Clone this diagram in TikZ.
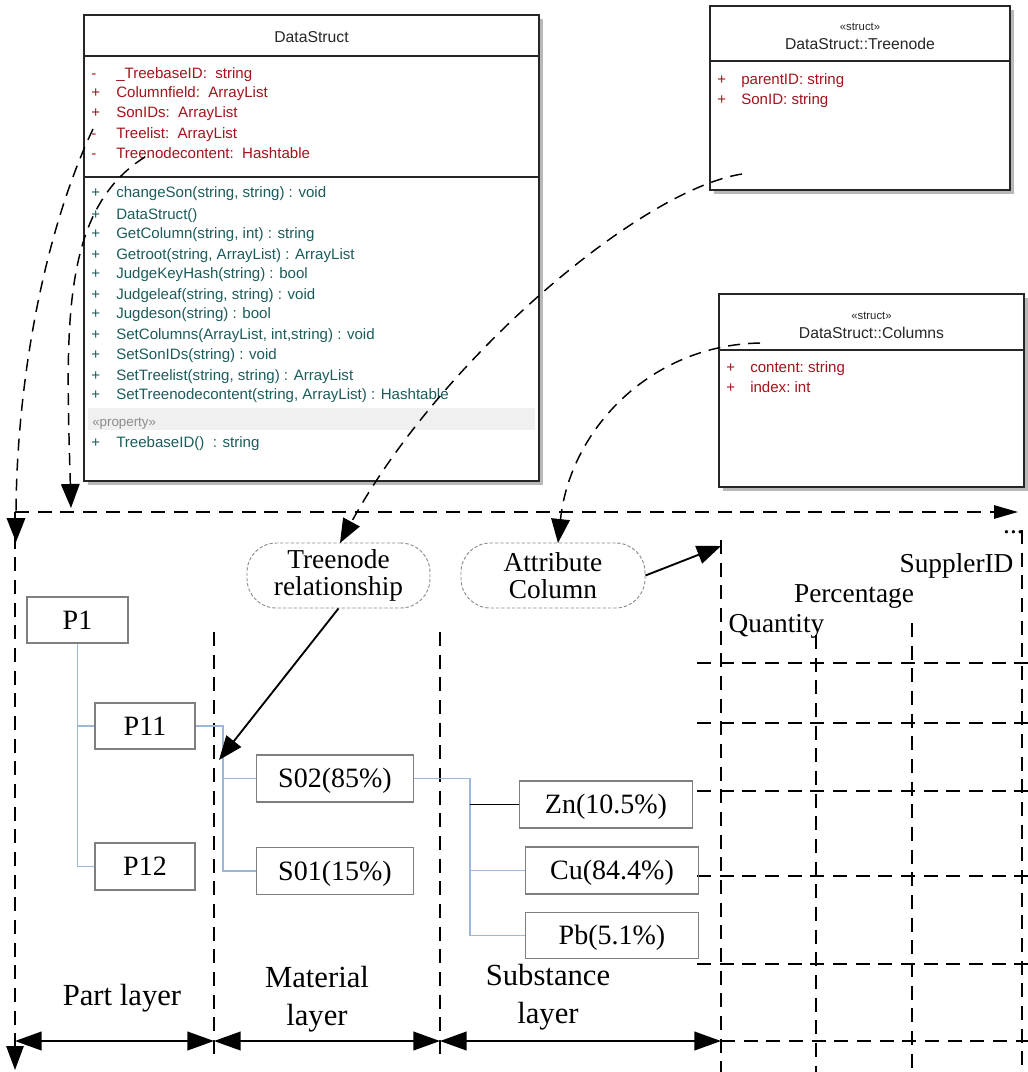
\documentclass[tikz,border=0pt]{standalone}
\usepackage{fontspec}
\setmainfont{Liberation Serif}
\newfontfamily\umlf{Liberation Sans}
\usetikzlibrary{arrows.meta,calc}
\definecolor{attrred}{HTML}{A3141C}
\definecolor{methteal}{HTML}{1D5C5C}
\definecolor{treeblue}{HTML}{9DB6DC}
\definecolor{boxgray}{HTML}{7F7F7F}
\definecolor{shadowgray}{HTML}{B8B8B8}
\definecolor{propband}{HTML}{F0F0F0}
\begin{document}
\begin{tikzpicture}[x=0.75pt,y=-0.75pt,
  umlbox/.style={draw=black!85, line width=1pt, fill=white, inner sep=0, outer sep=0, anchor=north west},
  umltxt/.style={font=\umlf\fontsize{11.3}{13}\selectfont, inner sep=0, anchor=base west},
  attr/.style={umltxt, text=attrred},
  meth/.style={umltxt, text=methteal},
  umltitle/.style={font=\umlf\fontsize{11.8}{13}\selectfont, inner sep=0, anchor=base, text=black!85},
  stereo/.style={font=\umlf\fontsize{8.5}{10}\selectfont, inner sep=0, anchor=base, text=black!85},
  frame/.style={line width=1.4pt, dash pattern=on 10.5pt off 6.5pt},
  curve/.style={line width=1.1pt, dash pattern=on 9pt off 6pt},
  tip/.style={-{Triangle[length=18pt,width=14pt]}},
  treebox/.style={draw=boxgray, line width=0.8pt, inner sep=0, font=\fontsize{21}{24}\selectfont, text height=18pt, text depth=4pt},
  tree/.style={draw=treeblue, line width=0.8pt},
  oval/.style={draw=gray!90, dash pattern=on 2.5pt off 1.5pt, line width=0.7pt, rounded corners=22pt, inner sep=0, minimum height=48.75pt, align=center, font=\fontsize{20.5}{20}\selectfont},
  lbl/.style={align=center, font=\fontsize{23}{28}\selectfont, inner sep=0},
  hdr/.style={font=\fontsize{20.5}{24}\selectfont, inner sep=0, anchor=base}
]
\useasboundingbox (0,0) rectangle (1028,1072);

% ---------- UML: DataStruct ----------
\fill[shadowgray] (88,19) rectangle (543,485);
\node[umlbox, minimum width=341.25pt, minimum height=349.5pt] (ds) at (84,15) {};
\draw[line width=1pt, black!85] (84,56) -- (539,56);
\draw[line width=1pt, black!85] (84,177) -- (539,177);
\fill[propband] (88,408) rectangle (535,430);
\node[umltitle] (dst) at (311.5,42) {DataStruct};
\foreach \s/\t/\y [count=\i] in {
  -/{\_TreebaseID:\ \ string}/78,
  +/{Columnfield:\ \ ArrayList}/97,
  +/{SonIDs:\ \ ArrayList}/117,
  -/{Treelist:\ \ ArrayList}/138,
  -/{Treenodecontent:\ \ Hashtable}/158}
{
  \node[attr] (dsas\i) at (91,\y) {\s};
  \node[attr] (dsat\i) at (116,\y) {\t};
}
\foreach \t/\y [count=\i] in {
  {changeSon(string, string) : void}/197,
  {DataStruct()}/219,
  {GetColumn(string, int) : string}/238,
  {Getroot(string, ArrayList) : ArrayList}/259,
  {JudgeKeyHash(string) : bool}/278,
  {Judgeleaf(string, string) : void}/299,
  {Jugdeson(string) : bool}/318,
  {SetColumns(ArrayList, int,string) : void}/339,
  {SetSonIDs(string) : void}/359,
  {SetTreelist(string, string) : ArrayList}/380,
  {SetTreenodecontent(string, ArrayList) : Hashtable}/399}
{
  \node[meth] (dsms\i) at (91,\y) {+};
  \node[meth] (dsmt\i) at (116,\y) {\t};
}
\node[umltxt, text=black!45, font=\umlf\fontsize{10}{12}\selectfont] (dsprop) at (92,426) {«property»};
\node[meth] (dsps) at (91,447) {+};
\node[meth] (dspt) at (116,447) {TreebaseID()\ \ : string};

% ---------- UML: Treenode ----------
\fill[shadowgray] (714,10) rectangle (1014,194);
\node[umlbox, minimum width=225pt, minimum height=138pt] (tn) at (710,6) {};
\draw[line width=1pt, black!85] (710,61) -- (1010,61);
\node[stereo] (tns) at (860,30) {«struct»};
\node[umltitle] (tnt) at (860,49) {DataStruct::Treenode};
\node[attr] (tna1s) at (717,84) {+};
\node[attr] (tna1) at (741,84) {parentID:\ string};
\node[attr] (tna2s) at (717,104) {+};
\node[attr] (tna2) at (741,104) {SonID:\ string};

% ---------- UML: Columns ----------
\fill[shadowgray] (723,298) rectangle (1028,491);
\node[umlbox, minimum width=228.75pt, minimum height=144.75pt] (col) at (719,294) {};
\draw[line width=1pt, black!85] (719,350) -- (1024,350);
\node[stereo] (cols) at (871.5,319) {«struct»};
\node[umltitle] (colt) at (871.5,338) {DataStruct::Columns};
\node[attr] (cola1s) at (726,372) {+};
\node[attr] (cola1) at (750,372) {content:\ string};
\node[attr] (cola2s) at (726,392) {+};
\node[attr] (cola2) at (750,392) {index:\ int};

% ---------- frame and grid ----------
\coordinate (fo) at (15,512);
\coordinate (fr) at (1018,512);
\coordinate (fb) at (15,1070);
\draw[frame, -{Triangle[length=18pt,width=10pt]}] (fo) -- (fr);
\draw[frame, -{Triangle[length=18pt,width=13pt]}] (fo) -- (fb);
\draw[frame] (214,632) -- (214,1057);
\draw[frame] (440,632) -- (440,1057);
\draw[frame] (721,540) -- (721,1072);
\draw[frame] (816,635) -- (816,1072);
\draw[frame] (912,623) -- (912,1072);
\draw[frame] (1022,530) -- (1022,1072);
\foreach \y in {663,723,791,876,964}{\draw[frame] (697,\y) -- (1028,\y);}
\draw[frame] (721,1041) -- (1028,1041);

% ---------- bottom layer arrows ----------
\coordinate (b0) at (15,1041);
\coordinate (b1) at (214,1041);
\coordinate (b2) at (440,1041);
\coordinate (b3) at (721,1041);
\foreach \a/\b in {b0/b1,b1/b2,b2/b3}{
  \draw[line width=1.5pt, {Triangle[length=20pt,width=14pt]}-{Triangle[length=20pt,width=14pt]}] (\a) -- (\b);
}
\node[lbl] (lpart) at (122,998) {Part layer};
\node[lbl] (lmat) at (317,999) {Material\\layer};
\node[lbl] (lsub) at (548,997) {Substance\\layer};

% ---------- column headers ----------
\node[hdr] (hq) at (776.5,632) {Quantity};
\node[hdr] (hp) at (854,602) {Percentage};
\node[hdr] (hs) at (956.5,572) {SupplerID};
\node[hdr, anchor=base east] (hd) at (1024,533) {...};

% ---------- tree ----------
\node[treebox, minimum width=75.75pt, minimum height=34.5pt] (P1) at (77.5,620) {P1};
\node[treebox, minimum width=75pt, minimum height=34.5pt] (P11) at (145,726) {P11};
\node[treebox, minimum width=75pt, minimum height=35.25pt] (P12) at (145,866.5) {P12};
\node[treebox, minimum width=117.75pt, minimum height=35.25pt] (S02) at (335,778.5) {S02(85\%)};
\node[treebox, minimum width=117.75pt, minimum height=35.25pt] (S01) at (335,871) {S01(15\%)};
\node[treebox, minimum width=129.75pt, minimum height=35.25pt] (Zn) at (606,804.5) {Zn(10.5\%)};
\node[treebox, minimum width=129.75pt, minimum height=35.25pt] (Cu) at (612,870.5) {Cu(84.4\%)};
\node[treebox, minimum width=129.75pt, minimum height=34.5pt] (Pb) at (612,935.5) {Pb(5.1\%)};

\draw[tree] (P1.south) |- (P11.west);
\draw[tree] (P1.south) |- (P12.west);
\coordinate (j1) at (223,726);
\draw[tree] (P11.east) -- (j1) |- (S01.west);
\draw[tree] (j1) |- (S02.west);
\coordinate (j2) at (470,778.5);
\draw[tree] (S02.east) -- (j2) |- (Pb.west);
\draw[tree] (j2) |- (Cu.west);
\draw[line width=1.2pt] (j2 |- Zn.west) -- (Zn.west);

% ---------- ovals ----------
\node[oval, minimum width=137.25pt] (tr) at (338.5,575.5) {Treenode\\relationship};
\node[oval, minimum width=138pt] (ac) at (553,575.5) {Attribute\\Column};
\coordinate (tgt1) at (219,760);
\coordinate (v0top) at (721,546);
\draw[line width=1.4pt, tip] (tr.south) -- (tgt1);
\draw[line width=1.4pt, tip] (ac.east) -- (v0top);

% ---------- dashed curves from UML ----------
\coordinate (c1s) at (93,129);
\coordinate (c1e) at (16,542);
\draw[curve, tip] (c1s) .. controls (45,230) and (16,380) .. (c1e);
\coordinate (c2s) at (145,157);
\coordinate (c2e) at (71,508);
\draw[curve, tip] (c2s) .. controls (60,210) and (66,330) .. (c2e);
\coordinate (c3s) at (742,174);
\coordinate (c3e) at (340,543);
\draw[curve, tip] (c3s) .. controls (640,190) and (440,360) .. (c3e);
\coordinate (c4s) at (760,343);
\coordinate (c4e) at (558,543);
\draw[curve, tip] (c4s) .. controls (650,345) and (570,430) .. (c4e);
\end{tikzpicture}
\end{document}
